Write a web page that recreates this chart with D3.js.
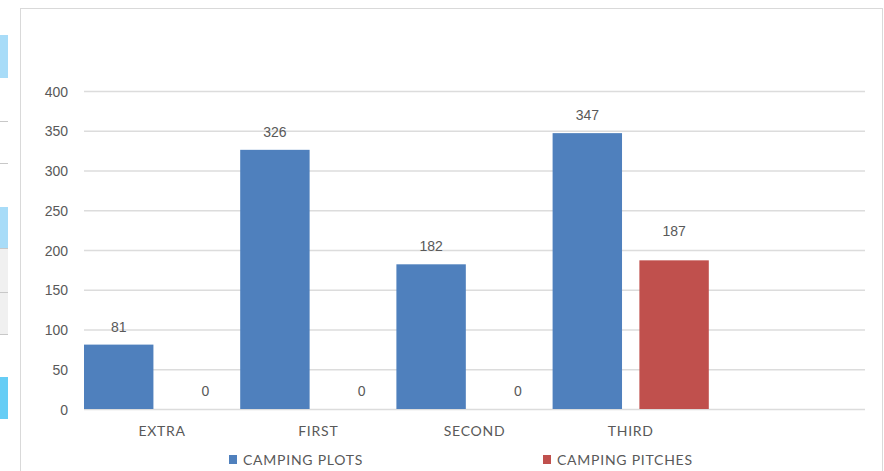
<!DOCTYPE html>
<html>
<head>
<meta charset="utf-8">
<script src="https://cdn.jsdelivr.net/npm/d3@7"></script>
<style>
  html, body { margin: 0; padding: 0; background: #fff; }
  svg { display: block; }
  text { fill: #595959; }
  .num { font-family: "Liberation Sans", Arial, sans-serif; font-size: 14px; }
  .lbl { font-family: Lato, "Open Sans", sans-serif; font-size: 14px; letter-spacing: 0.75px; }
</style>
</head>
<body>
<svg id="chart" width="884" height="471"></svg>
<script>
// Chart data
const categories = ["EXTRA", "FIRST", "SECOND", "THIRD", ""];
const seriesNames = ["CAMPING PLOTS", "CAMPING PITCHES"];
const campingPlots = [81, 326, 182, 347, null];
const campingPitches = [0, 0, 0, 187, null];
const yTicks = [0, 50, 100, 150, 200, 250, 300, 350, 400];
const seriesColors = ["#4f80bd", "#c0504d"];

const svg = d3.select("#chart");

// Neighbouring page panel strip on the left edge
const strip = svg.append("g");
[[35, 78, "#a8dcf8"], [207, 248, "#a8dcf8"], [248, 292, "#f0f0f0"], [292, 334, "#f0f0f0"], [377, 419, "#66cdf5"]]
  .forEach(([a, b, c]) => strip.append("rect").attr("x", 0).attr("y", a).attr("width", 8).attr("height", b - a).attr("fill", c));
[121, 163, 248, 292, 334].forEach(y => strip.append("line").attr("x1", 0).attr("x2", 8).attr("y1", y + 0.5).attr("y2", y + 0.5).attr("stroke", "#c8c8c8"));

// Chart frame
svg.append("rect").attr("x", 20.5).attr("y", 8.5).attr("width", 862).attr("height", 470)
  .attr("fill", "#fff").attr("stroke", "#d9d9d9");

const plot = { left: 84, right: 865, top: 91, bottom: 409 };

const x0 = d3.scaleBand().domain(d3.range(categories.length)).range([plot.left, plot.right]).padding(0);
const x1 = d3.scaleBand().domain(seriesNames).range([0, x0.bandwidth()]).paddingInner(0.2).paddingOuter(0);
const y = d3.scaleLinear().domain([0, 400]).range([plot.bottom, plot.top]);

// Gridlines and y labels
const yAxis = d3.axisLeft(y).tickValues(yTicks).tickSize(-(plot.right - plot.left)).tickPadding(16);
const gy = svg.append("g").attr("transform", `translate(${plot.left},0)`).call(yAxis);
gy.select(".domain").remove();
gy.selectAll(".tick line").attr("stroke", "#dcdcdc").attr("stroke-width", 1.5);
gy.selectAll(".tick text").attr("class", "num").attr("font-size", null).attr("font-family", null)
  .attr("fill", "#595959").attr("dy", "0.36em");
gy.attr("font-size", null).attr("font-family", null);

// Category labels
const xAxis = d3.axisBottom(x0).tickFormat(i => categories[i]).tickSize(0).tickPadding(17);
const gx = svg.append("g").attr("transform", `translate(0,${plot.bottom})`).call(xAxis);
gx.select(".domain").remove();
gx.attr("font-size", null).attr("font-family", null);
gx.selectAll(".tick text").attr("class", "lbl").attr("fill", "#595959");

// Bars and value labels (the pitches label sits a little higher above its bar)
const labelGap = [13, 24];
const series = [campingPlots, campingPitches];
series.forEach((vals, s) => {
  const g = svg.append("g");
  vals.forEach((v, i) => {
    if (v === null) return;
    const bx = x0(i) + x1(seriesNames[s]);
    g.append("rect")
      .attr("x", bx).attr("y", y(v))
      .attr("width", x1.bandwidth()).attr("height", y(0) - y(v))
      .attr("fill", seriesColors[s]);
    g.append("text")
      .attr("class", "num")
      .attr("x", bx + x1.bandwidth() / 2).attr("y", y(v) - (v > 0 ? labelGap[s] : 13))
      .attr("text-anchor", "middle")
      .text(v);
  });
});

// Legend
const legend = svg.append("g");
[[229, 0], [543, 1]].forEach(([lx, s]) => {
  legend.append("rect").attr("x", lx).attr("y", 455).attr("width", 8).attr("height", 9).attr("fill", seriesColors[s]);
  legend.append("text").attr("class", "lbl").attr("x", lx + 14).attr("y", 465).text(seriesNames[s]);
});
</script>
</body>
</html>
